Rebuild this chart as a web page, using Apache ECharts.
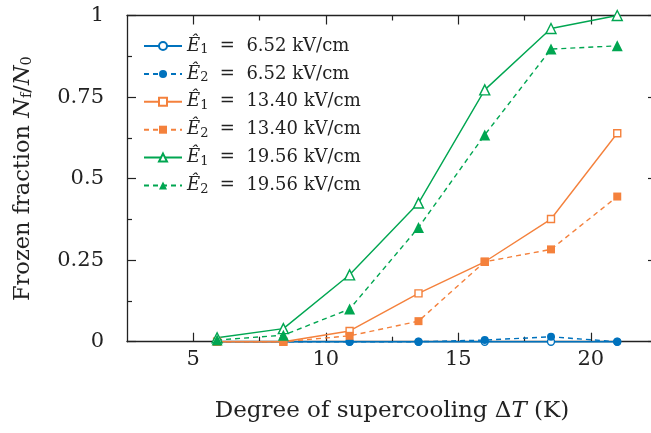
<!DOCTYPE html>
<html>
<head>
<meta charset="utf-8">
<script src="https://cdn.jsdelivr.net/npm/echarts@6/dist/echarts.min.js"></script>
<style>
html,body{margin:0;padding:0;overflow:hidden;background:#fff}
#c{width:660px;height:433px}
</style>
</head>
<body>
<div id="c"></div>
<script>
// Degree of supercooling (K)
const deltaT = [5.9, 8.4, 10.9, 13.5, 16.0, 18.5, 21.0];

// Frozen fraction Nf/N0 for each field strength
const blueE1   = [0, 0, 0, 0, 0, 0, 0];
const blueE2   = [0, 0, 0, 0, 0.005, 0.015, 0];
const orangeE1 = [0, 0, 0.033, 0.148, 0.245, 0.376, 0.639];
const orangeE2 = [0, 0, 0.018, 0.063, 0.245, 0.283, 0.445];
const greenE1  = [0.012, 0.04, 0.205, 0.425, 0.772, 0.96, 1.0];
const greenE2  = [0.005, 0.02, 0.10, 0.35, 0.634, 0.897, 0.907];

// Legend entries: subscript index and field value
const legendSubs = ['1', '2', '1', '2', '1', '2'];
const legendVals = ['6.52', '6.52', '13.40', '13.40', '19.56', '19.56'];

// Axis ticks
const xMajor = [5, 10, 15, 20];
const xMinor = [7.5, 12.5, 17.5];

const BLUE = '#0072bd', ORANGE = '#f4813c', GREEN = '#00a651';
const FONT = 'DejaVu Serif';
const INK = '#222';

const seriesDefs = [
  { data: blueE1,   color: BLUE,   dash: false, symbol: 'circle',   size: 7,  open: true },
  { data: blueE2,   color: BLUE,   dash: true,  symbol: 'circle',   size: 8,  open: false },
  { data: orangeE1, color: ORANGE, dash: false, symbol: 'rect',     size: 7,  open: true },
  { data: orangeE2, color: ORANGE, dash: true,  symbol: 'rect',     size: 8,  open: false },
  { data: greenE1,  color: GREEN,  dash: false, symbol: 'triangle', size: 10, open: true },
  { data: greenE2,  color: GREEN,  dash: true,  symbol: 'triangle', size: 11, open: false }
];

const names = legendSubs.map((s, i) => 'E' + s + ' ' + legendVals[i]);

const series = seriesDefs.map((d, i) => ({
  name: names[i],
  type: 'line',
  xAxisIndex: 0,
  yAxisIndex: 0,
  data: deltaT.map((x, j) => [x, d.data[j]]),
  symbol: d.symbol,
  symbolSize: d.size,
  showAllSymbol: true,
  clip: false,
  lineStyle: { color: d.color, width: 1.4, type: d.dash ? [5, 4] : 'solid' },
  itemStyle: d.open
    ? { color: '#fff', borderColor: d.color, borderWidth: 1.4 }
    : { color: d.color, borderColor: d.color, borderWidth: 0 },
  emphasis: { disabled: true },
  animation: false
}));

const axisLine = { show: true, lineStyle: { color: INK, width: 1.3 } };

function xAx(position, ticks, len, withLine, withLabels) {
  return {
    type: 'value', position, min: 2.5, max: 22.5,
    axisLine: withLine ? axisLine : { show: false },
    axisTick: { show: true, inside: true, length: len, customValues: ticks,
                lineStyle: { color: INK, width: 1.2 } },
    axisLabel: withLabels
      ? { show: true, customValues: xMajor, fontFamily: FONT, fontSize: 21, color: INK, margin: 7 }
      : { show: false },
    splitLine: { show: false }
  };
}

function yAx(position, withLabels) {
  return {
    type: 'value', position, min: 0, max: 1, interval: 0.25,
    axisLine,
    axisTick: { show: true, inside: true, length: 9, lineStyle: { color: INK, width: 1.2 } },
    minorTick: { show: true, splitNumber: 2, length: 5, lineStyle: { color: INK, width: 1.2 } },
    axisLabel: withLabels
      ? { show: true, fontFamily: FONT, fontSize: 21, color: INK, margin: 23,
          formatter: v => String(v) }
      : { show: false },
    splitLine: { show: false }
  };
}

const xAxes = [
  xAx('bottom', xMajor, 9, true, true),
  xAx('bottom', xMinor, 5, false, false),
  xAx('top', xMajor, 9, true, false),
  xAx('top', xMinor, 5, false, false)
];
Object.assign(xAxes[0], {
  name: 'Degree of supercooling {d|Δ}{i|T} (K)',
  nameLocation: 'middle',
  nameGap: 58,
  nameTextStyle: {
    fontFamily: FONT, fontSize: 23, color: INK,
    rich: {
      d: { fontFamily: FONT, fontSize: 23, color: INK },
      i: { fontFamily: FONT, fontSize: 23, fontStyle: 'italic', color: INK }
    }
  }
});

const yAxes = [yAx('left', true), yAx('right', false)];
Object.assign(yAxes[0], {
  name: 'Frozen fraction {i|N}{s|f}{t|/}{i|N}{s|0}',
  nameLocation: 'middle',
  nameGap: 92,
  nameTextStyle: {
    fontFamily: FONT, fontSize: 22.5, color: INK,
    rich: {
      i: { fontFamily: FONT, fontSize: 22.5, fontStyle: 'italic', color: INK },
      s: { fontFamily: FONT, fontSize: 14.5, color: INK, padding: [9, 0, 0, 0] },
      t: { fontFamily: FONT, fontSize: 22.5, color: INK }
    }
  }
});

const chart = echarts.init(document.getElementById('c'), null, { renderer: 'canvas' });
chart.setOption({
  animation: false,
  backgroundColor: '#fff',
  grid: { left: 127, top: 15.5, width: 530, height: 326.2, containLabel: false },
  xAxis: xAxes,
  yAxis: yAxes,
  legend: {
    show: true,
    orient: 'vertical',
    left: 143,
    top: 37,
    padding: 0,
    itemWidth: 38,
    itemHeight: 10,
    itemGap: 8.4,
    selectedMode: false,
    data: names,
    formatter: name => {
      const i = names.indexOf(name);
      return '{e|Ê}{s|' + legendSubs[i] + '}{t|  =  ' + legendVals[i] + ' kV/cm}';
    },
    textStyle: {
      fontFamily: FONT, fontSize: 18, color: INK,
      rich: {
        e: { fontFamily: FONT, fontSize: 18, fontStyle: 'italic', color: INK },
        s: { fontFamily: FONT, fontSize: 13, color: INK, padding: [8, 0, 0, 0] },
        t: { fontFamily: FONT, fontSize: 18, color: INK }
      }
    }
  },
  series
});
</script>
</body>
</html>
